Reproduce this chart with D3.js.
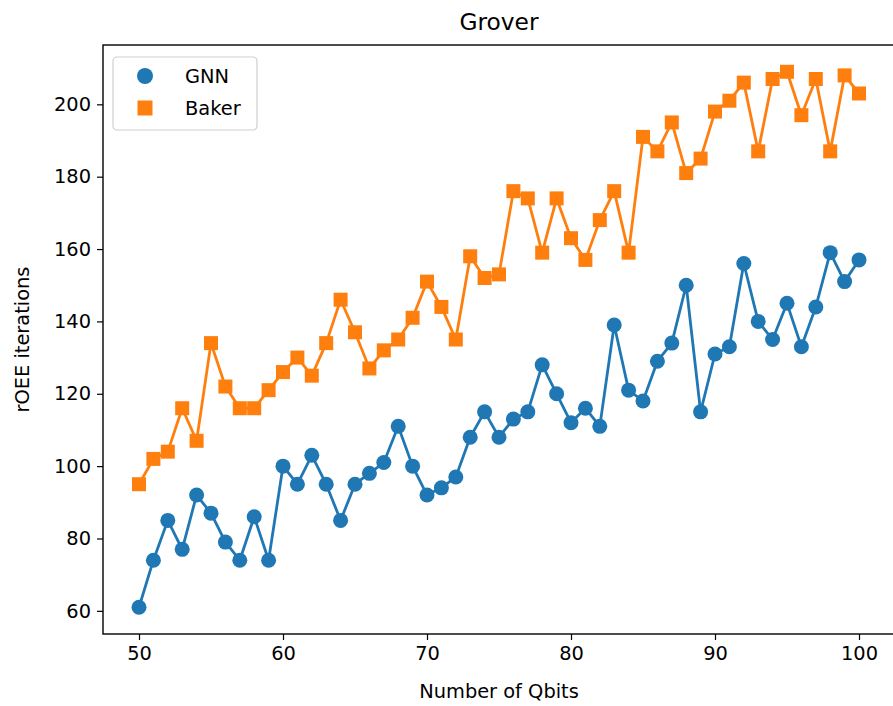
<!DOCTYPE html>
<html>
<head>
<meta charset="utf-8">
<script src="https://cdn.jsdelivr.net/npm/d3@7"></script>
<style>
  html, body { margin: 0; padding: 0; background: #fff; overflow: hidden; }
  text { font-family: "DejaVu Sans", sans-serif; fill: #000; }
</style>
</head>
<body>
<svg id="chart" width="893" height="706"></svg>
<script>
const qbits = d3.range(50, 101);
const gnn = [61, 74, 85, 77, 92, 87, 79, 74, 86, 74,
             100, 95, 103, 95, 85, 95, 98, 101, 111, 100,
             92, 94, 97, 108, 115, 108, 113, 115, 128, 120,
             112, 116, 111, 139, 121, 118, 129, 134, 150, 115,
             131, 133, 156, 140, 135, 145, 133, 144, 159, 151,
             157];
const baker = [95, 102, 104, 116, 107, 134, 122, 116, 116, 121,
               126, 130, 125, 134, 146, 137, 127, 132, 135, 141,
               151, 144, 135, 158, 152, 153, 176, 174, 159, 174,
               163, 157, 168, 176, 159, 191, 187, 195, 181, 185,
               198, 201, 206, 187, 207, 209, 197, 207, 187, 208,
               203];
const xTicks = [50, 60, 70, 80, 90, 100];
const yTicks = [60, 80, 100, 120, 140, 160, 180, 200];
const seriesNames = ["GNN", "Baker"];
const colors = ["#1f77b4", "#ff7f0e"];
const title = "Grover";
const xLabel = "Number of Qbits";
const yLabel = "rOEE iterations";

const svg = d3.select("#chart");
const L = 103, R = 895, T = 45, B = 634;

const allVals = gnn.concat(baker);
const ymin = d3.min(allVals), ymax = d3.max(allVals);
const ypad = (ymax - ymin) * 0.05;
const xpad = (100 - 50) * 0.05;

const x = d3.scaleLinear().domain([50 - xpad, 100 + xpad]).range([L, R]);
const y = d3.scaleLinear().domain([ymin - ypad, ymax + ypad]).range([B, T]);

const tickFont = 19.4;

// axes
const xAxis = svg.append("g").attr("transform", `translate(0,${B})`)
  .call(d3.axisBottom(x).tickValues(xTicks).tickSize(6).tickPadding(6).tickFormat(d3.format("d")));
const yAxis = svg.append("g").attr("transform", `translate(${L},0)`)
  .call(d3.axisLeft(y).tickValues(yTicks).tickSize(6).tickPadding(6).tickFormat(d3.format("d")));
[xAxis, yAxis].forEach(g => {
  g.select(".domain").remove();
  g.selectAll(".tick line").attr("stroke", "#000").attr("stroke-width", 1.2);
  g.selectAll(".tick text").attr("font-size", tickFont).attr("font-family", "DejaVu Sans").attr("fill", "#000");
});

// series
const data = [gnn, baker];
const clip = svg.append("clipPath").attr("id", "clip").append("rect")
  .attr("x", L).attr("y", T).attr("width", R - L).attr("height", B - T);
const plot = svg.append("g").attr("clip-path", "url(#clip)");

data.forEach((vals, i) => {
  const pts = qbits.map((q, j) => [q, vals[j]]);
  plot.append("path")
    .datum(pts)
    .attr("fill", "none")
    .attr("stroke", colors[i])
    .attr("stroke-width", 2.8)
    .attr("stroke-linejoin", "round")
    .attr("d", d3.line().x(d => x(d[0])).y(d => y(d[1])));
  if (i === 0) {
    plot.selectAll(null).data(pts).enter().append("circle")
      .attr("cx", d => x(d[0])).attr("cy", d => y(d[1])).attr("r", 7.5)
      .attr("fill", colors[i]);
  } else {
    const s = 14;
    plot.selectAll(null).data(pts).enter().append("rect")
      .attr("x", d => x(d[0]) - s / 2).attr("y", d => y(d[1]) - s / 2)
      .attr("width", s).attr("height", s)
      .attr("fill", colors[i]);
  }
});

// frame
svg.append("rect").attr("x", L).attr("y", T).attr("width", R - L).attr("height", B - T)
  .attr("fill", "none").attr("stroke", "#000").attr("stroke-width", 1.4);

// legend
const lg = svg.append("g");
lg.append("rect").attr("x", 113).attr("y", 57).attr("width", 144).attr("height", 73)
  .attr("rx", 4).attr("fill", "#fff").attr("fill-opacity", 0.8)
  .attr("stroke", "#d0d0d0").attr("stroke-width", 1.2);
lg.append("circle").attr("cx", 145).attr("cy", 76).attr("r", 8).attr("fill", colors[0]);
lg.append("rect").attr("x", 145 - 7.5).attr("y", 108 - 7.5).attr("width", 15).attr("height", 15).attr("fill", colors[1]);
seriesNames.forEach((n, i) => {
  lg.append("text").attr("x", 185).attr("y", [76, 108][i]).attr("dy", "0.35em")
    .attr("font-size", tickFont).text(n);
});

// titles
svg.append("text").attr("x", (L + R) / 2).attr("y", 22).attr("dy", "0.35em")
  .attr("text-anchor", "middle").attr("font-size", 23.3).text(title);
svg.append("text").attr("x", (L + R) / 2).attr("y", 691).attr("dy", "0.35em")
  .attr("text-anchor", "middle").attr("font-size", tickFont).text(xLabel);
svg.append("text").attr("transform", `translate(22,${(T + B) / 2}) rotate(-90)`).attr("dy", "0.35em")
  .attr("text-anchor", "middle").attr("font-size", tickFont).text(yLabel);
</script>
</body>
</html>
